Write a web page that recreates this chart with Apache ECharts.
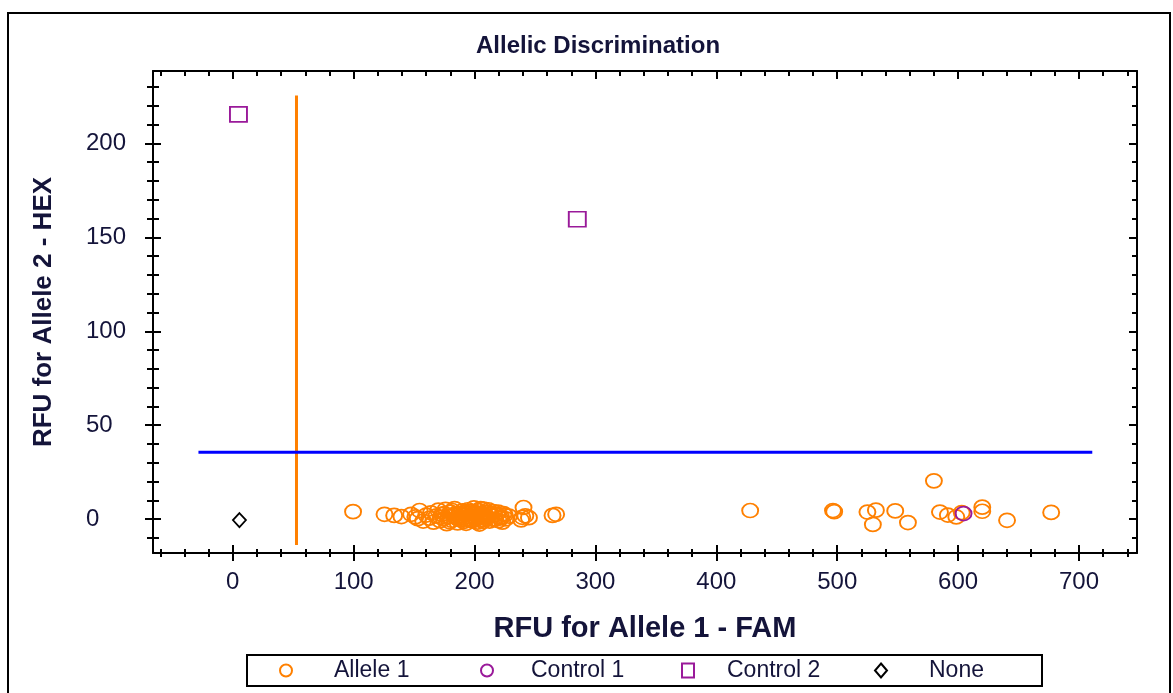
<!DOCTYPE html>
<html>
<head>
<meta charset="utf-8">
<script src="https://cdn.jsdelivr.net/npm/echarts@6/dist/echarts.min.js"></script>
<style>
html,body{margin:0;padding:0;background:#fff;}
#chart{width:1173px;height:693px;}
</style>
</head>
<body>
<div id="chart"></div>
<script>
// ---- data ----
const chartTitle = 'Allelic Discrimination';
const xAxisName = 'RFU for Allele 1 - FAM';
const yAxisName = 'RFU for Allele 2 - HEX';
const xTickLabels = [0, 100, 200, 300, 400, 500, 600, 700];
const yTickLabels = [0, 50, 100, 150, 200];
const xRange = [-66, 748];
const yRange = [-18, 238.5];
const legendNames = ['Allele 1', 'Control 1', 'Control 2', 'None'];

const allele1 = [
  [99.5,4.0],[125.5,2.6],[133.5,2.0],[139.5,1.4],[147.5,2.6],[151.0,1.2],[154.5,4.6],[153.0,0.3],
  [157.5,-1.0],[160.0,2.2],[162.5,0.5],[164.0,3.4],[166.0,-1.6],[168.5,1.8],[170.0,4.8],[171.5,-0.8],
  [173.0,2.6],[174.5,0.2],[176.0,5.2],[177.0,-2.4],[178.5,1.5],[180.0,3.8],[181.0,-0.6],[182.5,2.0],
  [183.5,5.6],[185.0,0.8],[186.0,-2.0],[187.5,3.0],[188.5,1.0],[190.0,4.4],[191.0,-1.2],[192.0,2.4],
  [193.5,0.2],[194.5,5.0],[195.5,3.2],[196.5,-0.4],[197.5,1.8],[198.5,4.2],[199.5,6.0],[200.5,0.6],
  [201.5,2.8],[202.5,-1.6],[203.5,4.6],[204.5,1.4],[205.5,3.0],[206.5,-0.2],[207.5,5.4],[208.5,2.2],
  [209.5,0.4],[211.0,3.6],[212.5,-1.0],[214.0,1.8],[215.5,4.0],[217.0,0.0],[218.5,2.6],[220.0,-0.8],
  [222.0,1.2],[224.0,3.0],[226.0,0.2],[228.5,1.6],
  [172.0,1.0],[175.0,3.0],[179.5,-1.4],[181.5,4.6],[184.0,2.8],[186.5,0.0],[189.0,-0.4],[189.5,2.0],
  [191.5,3.6],[193.0,-2.2],[195.0,1.2],[196.0,4.0],[198.0,-1.0],[199.0,2.6],[200.0,3.6],[201.0,-0.2],
  [203.0,1.0],[204.0,-2.6],[205.0,5.6],[206.0,2.0],[207.0,-1.2],[208.0,3.8],[210.0,1.2],[211.5,5.0],
  [213.0,2.6],[216.0,-0.2],[219.5,3.8],[221.0,0.6],[223.0,-1.6],[225.0,2.2],
  [238.5,-0.4],[239.5,1.0],[240.5,6.2],[242.0,1.8],
  [245.0,0.8],[264.5,2.0],[267.5,2.6],
  [428.0,4.6],[496.5,4.6],[497.5,4.0],[525.0,3.8],[532.0,4.8],[529.5,-2.8],[548.0,4.4],[558.5,-1.8],
  [580.0,20.4],[585.0,3.8],[591.5,2.2],[598.5,1.2],[603.0,3.5],[620.0,6.4],[620.0,4.2],[640.5,-0.6],[677.0,3.6]
];
const control1 = [[604.5,3.0]];
const control2 = [[4.7,215.4],[285.0,159.6]];
const noneCalls = [[5.5,-0.5]];

const famThreshold = 52.7;           // vertical orange line (x)
const famThresholdSpan = [-13.8, 225.5];
const hexThreshold = 35.6;           // horizontal blue line (y)
const hexThresholdSpan = [-28.4, 711];

// ---- styling ----
const FONT = '"Liberation Sans", Arial, sans-serif';
const ORANGE = '#FF8000';
const PURPLE = '#9A1A9A';
const BLUE = '#0000FF';
const TXT = '#14143a';

const xMinor = [], yMinor = [];
for (let v = -60; v <= 740; v += 20) if (v % 100 !== 0) xMinor.push(v);
for (let v = -10; v <= 230; v += 10) if (v % 50 !== 0) yMinor.push(v);

function tickAxis(pos, vals, len, inside, extra) {
  const isX = (pos === 'bottom' || pos === 'top');
  return Object.assign({
    type: 'value', position: pos,
    min: isX ? xRange[0] : yRange[0],
    max: isX ? xRange[1] : yRange[1],
    axisLine: {show: false, onZero: false},
    splitLine: {show: false},
    axisLabel: {show: false},
    axisTick: {show: true, inside: inside, length: len, customValues: vals,
      lineStyle: {color: '#000', width: 2}}
  }, extra || {});
}

const xAxes = [
  {
    type: 'value', position: 'bottom', min: xRange[0], max: xRange[1],
    name: xAxisName, nameLocation: 'middle', nameGap: 61,
    nameTextStyle: {fontFamily: FONT, fontWeight: 'bold', fontSize: 29, color: TXT},
    axisLine: {show: true, onZero: false, lineStyle: {color: '#000', width: 2}},
    splitLine: {show: false},
    axisTick: {show: true, length: 8, customValues: xTickLabels, lineStyle: {color: '#000', width: 2}},
    axisLabel: {show: true, customValues: xTickLabels, margin: 17, fontFamily: FONT, fontSize: 24, color: TXT}
  },
  tickAxis('bottom', xTickLabels, 8, true),
  tickAxis('bottom', xMinor, 4, false),
  tickAxis('bottom', xMinor, 4, true),
  tickAxis('top', xTickLabels, 8, true, {axisLine: {show: true, onZero: false, lineStyle: {color: '#000', width: 2}}}),
  tickAxis('top', xMinor, 5, true)
];
const yAxes = [
  {
    type: 'value', position: 'left', min: yRange[0], max: yRange[1],
    name: yAxisName, nameLocation: 'middle', nameGap: 96, nameRotate: 90,
    nameTextStyle: {fontFamily: FONT, fontWeight: 'bold', fontSize: 26, color: TXT},
    axisLine: {show: true, onZero: false, lineStyle: {color: '#000', width: 2}},
    splitLine: {show: false},
    axisTick: {show: true, length: 8, customValues: yTickLabels, lineStyle: {color: '#000', width: 2}},
    axisLabel: {show: true, customValues: yTickLabels, margin: 67, align: 'left', fontFamily: FONT, fontSize: 24, color: TXT}
  },
  tickAxis('left', yTickLabels, 8, true),
  tickAxis('left', yMinor, 6, false),
  tickAxis('left', yMinor, 6, true),
  tickAxis('right', yTickLabels, 8, true, {axisLine: {show: true, onZero: false, lineStyle: {color: '#000', width: 2}}}),
  tickAxis('right', yMinor, 5, true)
];

function scatter(name, data, symbol, size, color) {
  return {
    name: name, type: 'scatter', data: data, symbol: symbol, symbolSize: size,
    xAxisIndex: 0, yAxisIndex: 0,
    itemStyle: {color: 'rgba(255,255,255,0)', borderColor: color, borderWidth: 1.8, opacity: 1},
    emphasis: {disabled: true}, z: 5
  };
}

// one legend block per item so each sits in its own fixed column
const legendLefts = [279, 480, 681, 874];
const legendTextPad = [37, 33, 28, 37];
const legends = legendNames.map((n, i) => ({
  left: legendLefts[i], top: 659, itemWidth: 12, itemHeight: 14,
  selectedMode: false, padding: 0, data: [n],
  textStyle: {fontFamily: FONT, fontSize: 23, color: TXT, padding: [0, 0, 0, legendTextPad[i]]}
}));

const chart = echarts.init(document.getElementById('chart'), null, {renderer: 'canvas'});
chart.setOption({
  animation: false,
  backgroundColor: '#fff',
  grid: {left: 153, right: 36, top: 71, bottom: 140, containLabel: false},
  title: {
    text: chartTitle, left: 471, top: 29,
    textStyle: {fontFamily: FONT, fontWeight: 'bold', fontSize: 24, color: TXT}
  },
  xAxis: xAxes,
  yAxis: yAxes,
  legend: legends,
  graphic: [
    {type: 'rect', shape: {x: 8, y: 13, width: 1162, height: 700}, style: {fill: 'none', stroke: '#000', lineWidth: 2}, z: 100, silent: true},
    {type: 'rect', shape: {x: 247, y: 655, width: 795, height: 31}, style: {fill: 'none', stroke: '#000', lineWidth: 2}, z: 100, silent: true}
  ],
  series: [
    {
      name: 'FAM threshold', type: 'line', xAxisIndex: 0, yAxisIndex: 0,
      data: [[famThreshold, famThresholdSpan[0]], [famThreshold, famThresholdSpan[1]]],
      showSymbol: false, lineStyle: {color: ORANGE, width: 3}, z: 3, silent: true
    },
    {
      name: 'HEX threshold', type: 'line', xAxisIndex: 0, yAxisIndex: 0,
      data: [[hexThresholdSpan[0], hexThreshold], [hexThresholdSpan[1], hexThreshold]],
      showSymbol: false, lineStyle: {color: BLUE, width: 3}, z: 3, silent: true
    },
    scatter(legendNames[0], allele1, 'circle', [16, 14], ORANGE),
    scatter(legendNames[1], control1, 'circle', [16, 14], PURPLE),
    scatter(legendNames[2], control2, 'rect', [17, 15], PURPLE),
    scatter(legendNames[3], noneCalls, 'diamond', [13, 14], '#000')
  ]
});
</script>
</body>
</html>
